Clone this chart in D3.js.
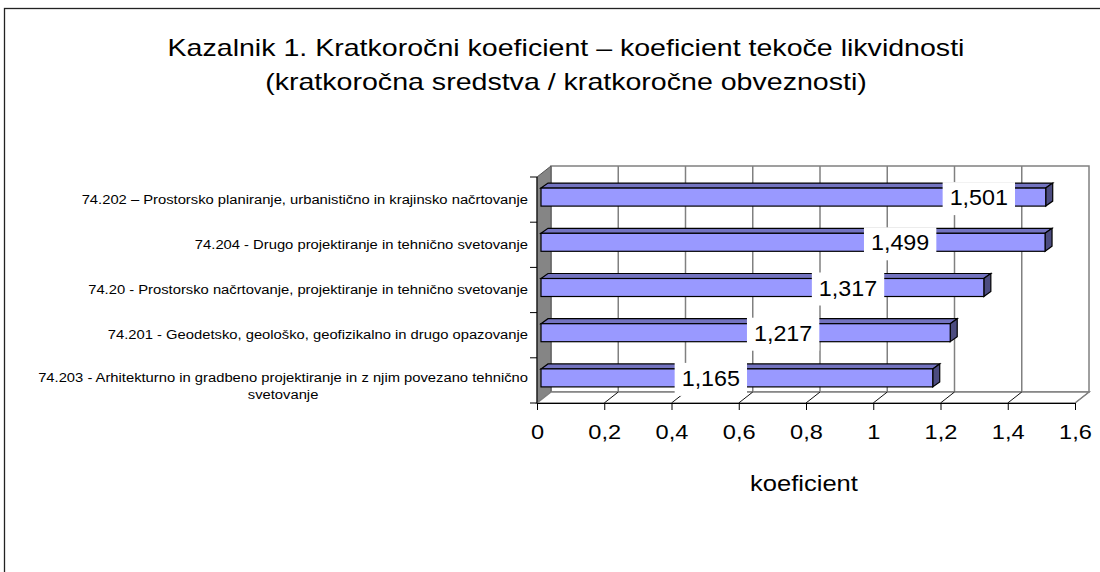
<!DOCTYPE html>
<html>
<head>
<meta charset="utf-8">
<script src="https://cdn.jsdelivr.net/npm/d3@7"></script>
<style>
body { margin: 0; background: #fff; }
text { font-family: "Liberation Sans", Arial, sans-serif; fill: #000; }
</style>
</head>
<body>
<script>
var categories = [
  "74.202 – Prostorsko planiranje, urbanistično in krajinsko načrtovanje",
  "74.204 - Drugo projektiranje in tehnično svetovanje",
  "74.20 - Prostorsko načrtovanje, projektiranje in tehnično svetovanje",
  "74.201 - Geodetsko, geološko, geofizikalno in drugo opazovanje",
  "74.203 - Arhitekturno in gradbeno projektiranje in z njim povezano tehnično svetovanje"
];
var values = [1.501, 1.499, 1.317, 1.217, 1.165];
var xTicks = [0, 0.2, 0.4, 0.6, 0.8, 1, 1.2, 1.4, 1.6];
var titleLines = [
  "Kazalnik 1. Kratkoročni koeficient – koeficient tekoče likvidnosti",
  "(kratkoročna sredstva / kratkoročne obveznosti)"
];
var xTitle = "koeficient";

var width = 1100, height = 572;
var margin = {left: 537, right: 25, top: 177, bottom: 169};
var depth = {dx: 14, dy: -11};      // depth of the 3d floor / wall
var barDepth = {dx: 7, dy: -5};     // depth of each bar
// where excel dropped the data labels (in axis units)
var labelAnchor = [1.314, 1.080, 0.925, 0.732, 0.517];

var sl = d3.formatLocale({decimal: ",", thousands: ".", grouping: [3], currency: ["", ""]});
var fmtTick = sl.format("~g");
var fmtVal = sl.format(".3f");

// the original picture was stretched sideways, so widen the glyphs a bit
function stretch(sel, k) {
  sel.each(function() {
    var w = this.getComputedTextLength();
    d3.select(this).attr("textLength", w * k).attr("lengthAdjust", "spacingAndGlyphs");
  });
}

var x = d3.scaleLinear().domain([0, 1.6]).range([margin.left, width - margin.right]);
var y = d3.scaleBand().domain(categories).range([margin.top, height - margin.bottom]).padding(0);

var svg = d3.select("body").append("svg").attr("width", width).attr("height", height);

// outer frame
svg.append("rect")
  .attr("x", 4.5).attr("y", 8.5).attr("width", 1200).attr("height", 700)
  .style("fill", "none").style("stroke", "#222").style("stroke-width", 1.3);

// title
svg.append("g").selectAll("text").data(titleLines).enter().append("text")
  .attr("x", 566)
  .attr("y", function(d, i) { return 56 + i * 34; })
  .style("text-anchor", "middle")
  .style("font-size", "24px")
  .text(function(d) { return d; })
  .call(stretch, 1.19);

var x0 = x(0), x1 = x(1.6);
var yTop = y.range()[0], yBot = y.range()[1];

// back wall
svg.append("rect")
  .attr("x", x0 + depth.dx).attr("y", yTop + depth.dy)
  .attr("width", x1 - x0).attr("height", yBot - yTop)
  .style("fill", "#fff").style("stroke", "#808080").style("stroke-width", 1.5);

// left wall
svg.append("polygon")
  .attr("points", [[x0, yTop], [x0 + depth.dx, yTop + depth.dy], [x0 + depth.dx, yBot + depth.dy], [x0, yBot]].join(" "))
  .style("fill", "#858585").style("stroke", "#555").style("stroke-width", 1);

// floor
svg.append("polygon")
  .attr("points", [[x0, yBot], [x0 + depth.dx, yBot + depth.dy], [x1 + depth.dx, yBot + depth.dy], [x1, yBot]].join(" "))
  .style("fill", "#fff").style("stroke", "#808080").style("stroke-width", 1.5);

// gridlines on the back wall and the floor
var grid = svg.append("g");
grid.selectAll("line.v").data(xTicks.slice(1, -1)).enter().append("line")
  .attr("class", "v")
  .attr("x1", function(d) { return x(d) + depth.dx; })
  .attr("x2", function(d) { return x(d) + depth.dx; })
  .attr("y1", yTop + depth.dy)
  .attr("y2", yBot + depth.dy)
  .style("stroke", "#808080").style("stroke-width", 1.5);
grid.selectAll("line.f").data(xTicks.slice(1)).enter().append("line")
  .attr("class", "f")
  .attr("x1", function(d) { return x(d); })
  .attr("x2", function(d) { return x(d) + depth.dx; })
  .attr("y1", yBot)
  .attr("y2", yBot + depth.dy)
  .style("stroke", function(d, i) { return i == xTicks.length - 2 ? "#808080" : "#111"; })
  .style("stroke-width", 1);

// x axis
var xAxis = d3.axisBottom(x).tickValues(xTicks).tickSize(7).tickPadding(15).tickSizeOuter(0)
  .tickFormat(function(d) { return fmtTick(d); });
var gx = svg.append("g").attr("transform", "translate(0," + yBot + ")").call(xAxis);
gx.select(".domain").style("stroke", "#000");
gx.selectAll("text").style("font-size", "20px").style("font-family", "Liberation Sans, Arial, sans-serif")
  .call(stretch, 1.18);

svg.append("text")
  .attr("x", 804).attr("y", 491)
  .style("text-anchor", "middle").style("font-size", "22px")
  .text(xTitle)
  .call(stretch, 1.16);

// y axis (ticks on category boundaries)
var gy = svg.append("g");
gy.append("line").attr("x1", x0).attr("x2", x0).attr("y1", yTop).attr("y2", yBot).style("stroke", "#000");
gy.selectAll("line.t").data(d3.range(categories.length + 1)).enter().append("line")
  .attr("class", "t")
  .attr("x1", x0 - 7).attr("x2", x0)
  .attr("y1", function(i) { return yTop + i * y.step(); })
  .attr("y2", function(i) { return yTop + i * y.step(); })
  .style("stroke", "#000");

// category labels, the long one wraps onto two lines
var catK = 1.23;
categories.forEach(function(c, i) {
  var cy = y(c) + y.bandwidth() / 2;
  var t = svg.append("text").style("font-size", "12px");
  var cut = c.lastIndexOf(" svetovanje");
  if (i == categories.length - 1 && cut > 0) {
    var first = c.slice(0, cut), second = c.slice(cut + 1);
    t.attr("x", 528).attr("y", cy + 2).style("text-anchor", "end").text(first).call(stretch, catK);
    var w = +t.attr("textLength");
    svg.append("text").style("font-size", "12px")
      .attr("x", 528 - w / 2).attr("y", cy + 19).style("text-anchor", "middle").text(second)
      .call(stretch, catK);
  } else {
    t.attr("x", 528).attr("y", cy + 4).style("text-anchor", "end").text(c).call(stretch, catK);
  }
});

// 3d bars
var bars = svg.append("g").selectAll("g").data(values).enter().append("g");
function barTop(d, i) { return y(categories[i]) + y.bandwidth() / 2 - 11.5; }
var bh = 18, ox = 4;
bars.append("polygon")
  .attr("points", function(d, i) {
    var t = barTop(d, i), a = x(0) + ox, b = x(d) + ox;
    return [[a, t], [a + barDepth.dx, t + barDepth.dy], [b + barDepth.dx, t + barDepth.dy], [b, t]].join(" ");
  })
  .style("fill", "#7373c0").style("stroke", "#000").style("stroke-width", 1.2);
bars.append("polygon")
  .attr("points", function(d, i) {
    var t = barTop(d, i), b = x(d) + ox;
    return [[b, t], [b + barDepth.dx, t + barDepth.dy], [b + barDepth.dx, t + bh + barDepth.dy], [b, t + bh]].join(" ");
  })
  .style("fill", "#4c4c80").style("stroke", "#000").style("stroke-width", 1.2);
bars.append("rect")
  .attr("x", x(0) + ox)
  .attr("y", function(d, i) { return barTop(d, i); })
  .attr("width", function(d) { return x(d) - x(0); })
  .attr("height", bh)
  .style("fill", "#9999ff").style("stroke", "#000").style("stroke-width", 1.2);

// data labels on white boxes
var labels = svg.append("g").selectAll("g").data(values).enter().append("g");
labels.each(function(d, i) {
  var g = d3.select(this);
  var cy = barTop(d, i) + bh / 2;
  var r = g.append("rect").style("fill", "#fff");
  var t = g.append("text")
    .attr("x", x(labelAnchor[i])).attr("y", cy + 8)
    .style("text-anchor", "middle").style("font-size", "22px")
    .text(fmtVal(d))
    .call(stretch, 1.06);
  var bb = t.node().getBBox();
  r.attr("x", bb.x - 7).attr("y", bb.y - 3).attr("width", bb.width + 14).attr("height", bb.height + 8);
});
</script>
</body>
</html>
